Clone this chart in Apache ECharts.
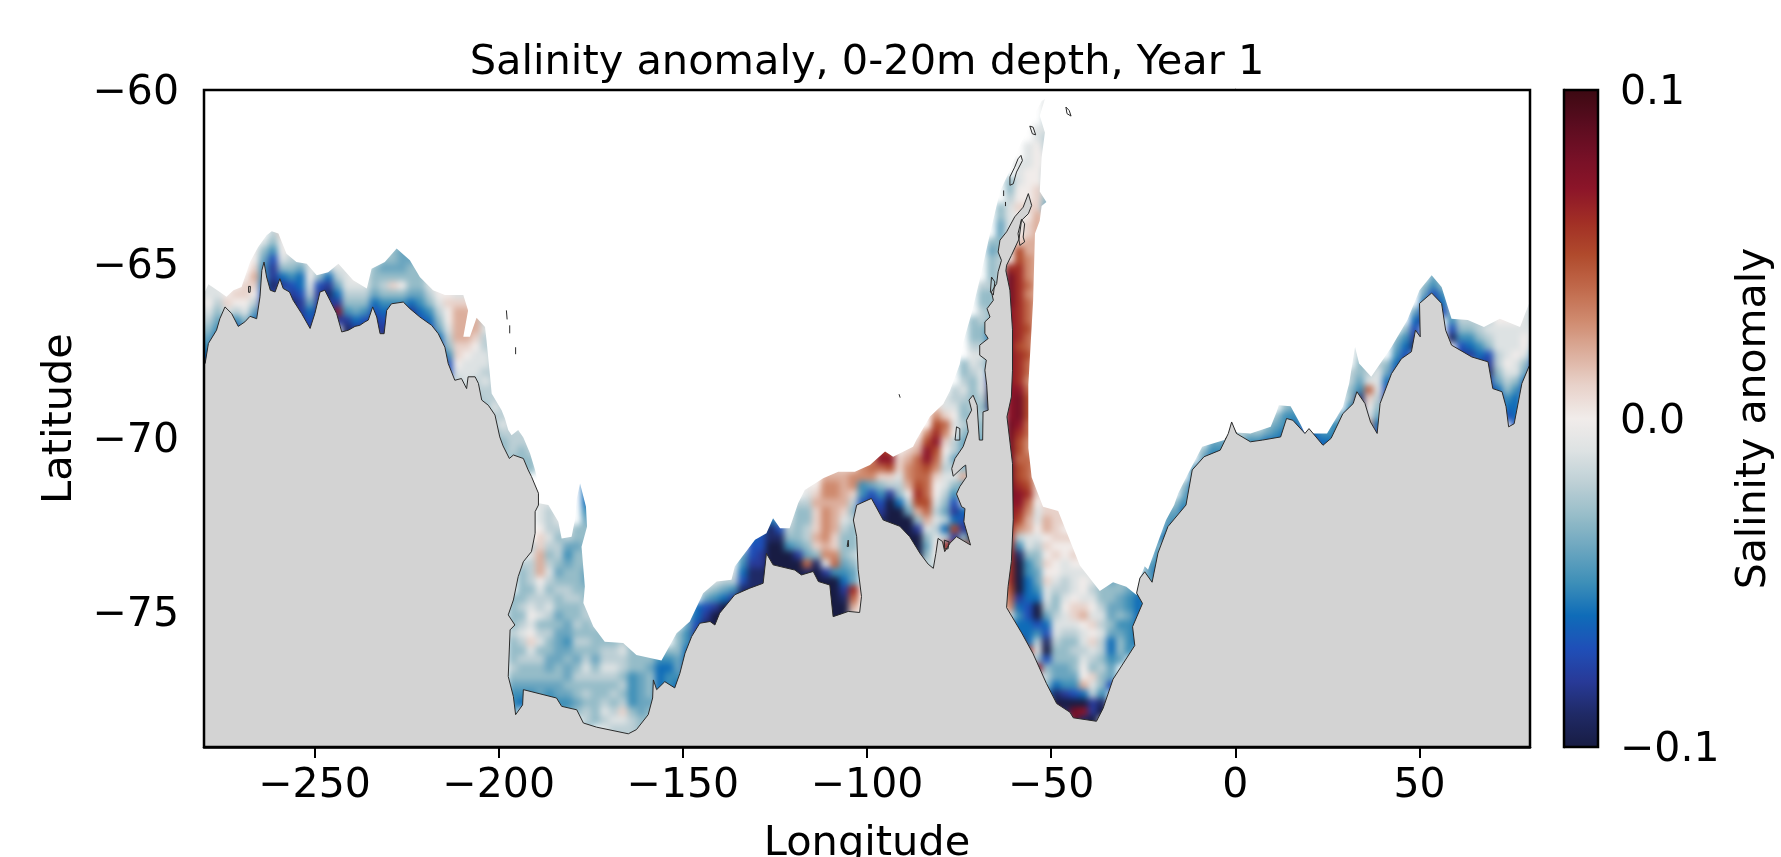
<!DOCTYPE html>
<html><head><meta charset="utf-8">
<style>html,body{margin:0;padding:0;background:#fff}#c{width:1781px;height:857px}</style>
<script src="https://cdn.jsdelivr.net/npm/echarts@6/dist/echarts.min.js"></script>
</head><body><div id="c"></div>
<script>
const titleText = 'Salinity anomaly, 0-20m depth, Year 1';
const xTicks = [-250,-200,-150,-100,-50,0,50];
const yTicks = [-60,-65,-70,-75];
const barTicks = [-0.1,0,0.1];
const barColors = ['#181c43','#1f2a66','#283a98','#1f4fb8','#0f6cb8','#3d8fb8','#6aa5bf','#95bcc8','#bccfd5','#dde2e3','#f1ecea','#e8d2ca','#dcae9c','#cf8a6e','#c0684a','#b04a2c','#a12e25','#8c1529','#751026','#590c1f','#3c0912'];
const cellW = 2.5, cellH = 0.25;
// each row: longitude, latitude of first cell's top, then anomaly (hundredths) going south
const cellRows = [
[-282.5,-65.5,-1,-1,-1,-2,-2,-3,-4,-5,-6,-7,-8],
[-280,-65.25,0,-1,-1,0,-1,-2,-3,-4,-5,-6,-7,-8],
[-277.5,-65.25,0,-1,-1,-2,-3,-4,-5,-6,-7,-8,-8],
[-275,-65.5,0,0,1,-1,-4,-6,-7,-8,-8],
[-272.5,-65.5,0,1,0,-2,-5,-7,-8,-8],
[-270,-65.25,0,1,1,0,-1,-3,-5,-7,-8,-8],
[-267.5,-64.5,0,0,1,2,1,0,-2,-4,-6,-7,-8,-8],
[-265,-64.25,-1,-3,-4,-5,-5,-6,-7,-8,-8],
[-262.5,-63.75,-1,-2,-3,-5,-7,-8,-8,-9,-8,-7],
[-260,-63.75,1,1,0,0,-1,-3,-6,-8,-5,-1,-3],
[-257.5,-64.25,-1,-1,-2,-3,-5,-7,-8,-9,-8,-8],
[-255,-64.5,-2,-2,-4,-6,-6,-7,-8,-8,-8,-8],
[-252.5,-64.75,-1,-1,0,-1,-2,-4,-6,-7,-8,-8],
[-250,-65,-1,-3,-7,-8,-8,-8,-8,-8],
[-247.5,-65,-2,-6,-8,-9,-8,-8],
[-245,-64.75,0,-1,-2,-4,-6,-8,7,-8],
[-242.5,-64.75,0,-1,-1,-1,-2,-3,-5,-8,-9,-9,-9],
[-240,-65.25,0,-1,-2,-3,-4,-6,-8,-9,-8,-8],
[-237.5,-65.25,-1,-1,-2,-3,-5,-7,-8,-8,-8],
[-235,-65,-3,-3,-3,-4,-6,-7,-8,-8],
[-232.5,-64.75,-3,-4,-3,-2,-3,-5,-6,-7,-8,-9,-9],
[-230,-64.5,-3,-3,-4,-3,1,-3,-5,-7,-8,-8],
[-227.5,-64.25,-4,-4,-4,-4,-3,0,-3,-5,-7,-8,-8],
[-225,-64.5,-4,-4,-3,-3,-3,-4,-6,-8,-8],
[-222.5,-65,-3,-3,-3,-4,-5,-6,-7,-8],
[-220,-65.25,-1,-1,-2,-3,-5,-6,-7,-8],
[-217.5,-65.5,0,0,-1,-2,-3,-4,-6,-7,-8],
[-215,-65.5,0,0,1,0,0,-1,-2,-3,-5,-7,-7],
[-212.5,-65.5,-1,-1,1,2,2,2,2,1,1,0,-1,-2],
[-210,-65.5,-1,-1,1,2,2,2,2,1,0,-1,-1,-1,-2],
[-207.5,-66,0,1,2,2,1,0,-1,-1,-1,-2,-2,-3],
[-205,-66.25,-2,-2,-1,-2,-2,-1,-1,-2,-1,-2,-2,-3,-3],
[-202.5,-67,-2,-2,-2,-2,-2,-2,-2,-2,-1,-2,-2,-3,-3],
[-200,-68.5,-1,-2,-2,-2,-1,-2,-3,-3],
[-197.5,-69.5,-2,-2,-2,-2,-3,-3],
[-197.5,-74.5,-3,-3,-3,-3,-2,-3,-3,-3,-2,-3,-4,-5,-5,-4],
[-195,-69.75,-2,-2,-3,-3,-3],
[-195,-73.5,-2,-3,-3,-3,-3,-2,-3,-2,-1,-2,-3,-2,-3,-3,-4,-5,-6],
[-192.5,-70,-2,-2,-3,-3],
[-192.5,-73,-2,-1,-2,-2,-2,-3,-2,-1,0,-1,0,1,-1,-2,-3,-3,-4,-5,-5],
[-190,-71.75,-1,-1,-1,0,1,1,2,2,2,0,-1,-2,-2,-1,-3,-2,-1,-3,-2,-3,-3,-4,-4,-5],
[-187.5,-71.5,-1,-1,-2,-2,-2,-1,-2,-3,-2,-1,-2,-3,-2,-1,-2,-3,-2,-3,-3,-4,-4,-3,-4,-5,-5],
[-185,-72,-1,-1,-2,-3,-2,-2,-3,-4,-3,-2,-3,-3,-4,-3,-4,-4,-4,-4,-3,-3,-4,-4,-5,-5],
[-182.5,-72.5,-1,-2,-4,-5,-4,-3,-3,-2,-2,-3,-3,-4,-4,-5,-4,-3,-4,-4,-3,-4,-5,-4],
[-180,-72.5,-3,-3,-4,-3,-3,-3,-3,-3,-2,-3,-3,-2,-3,-2,-3,-4,-3,-2,-3,-3,-4,-3],
[-177.5,-71,-5,-6,-6,-6,-5,-4,-3,-3,-3,-3,-3,-4,-4,-3,-3,-2,-2,-3,-3,-2,-3,-2,-1,-2,-3,-2,-3,-2,-2,-3],
[-175,-74.75,-3,-2,-2,-3,-3,-3,-4,-3,-2,-3,-3,-3,-3,-3],
[-172.5,-75.25,-3,-3,-3,-2,-2,-1,-2,-3,-3,-2,-1,-2,-1],
[-170,-75.5,-3,-3,-2,-2,-1,-2,-3,-2,-3,-2,-1,-2,-2],
[-167.5,-75.5,-3,-2,-1,-2,-2,-3,-2,-3,-2,1,-1,-2,-2],
[-165,-75.75,-3,-3,-3,-3,-5,-5,-5,-5,-3,-2,-2,-2,-2],
[-162.5,-76,-3,-3,-3,-4,-4,-4,-4,-4,-3,-3,-3],
[-160,-76,-3,-3,-4,-3,-3,-3,-4,-3,-3],
[-157.5,-76,-3,-5,-6,-6,-6,-6],
[-155,-76,-3,-5,-6,-5,-5,-6,-6],
[-152.5,-75.5,-3,-3,-3,-4,-4,-5,-6,-7],
[-150,-75,-4,-4,-5,-5,-6,-6,-7],
[-147.5,-74.75,-6,-6,-7,-8,-8],
[-145,-74.25,-2,-4,-7,-8,-9,-9],
[-142.5,-74,-1,-3,-5,-8,-10,-10,-10],
[-140,-73.75,-1,-2,-4,-6,-10,-10,-10],
[-137.5,-73.75,-1,-2,-5,-8,-10,-10],
[-135,-73.25,-4,-5,-6,-7,-9,-10],
[-132.5,-72.75,-6,-7,-7,-8,-9,-9,-9,-10],
[-130,-72.5,-6,-7,-7,-8,-8,-9,-9,-9],
[-127.5,-72.25,-6,-9,-9,-10,-10,-10,-10,-10],
[-125,-72,-4,-4,-7,-9,-10,-10,-10,-10],
[-122.5,-72.25,-1,-2,-3,-5,-10,-10,-10,-10],
[-120,-71.75,-2,-3,-3,-3,-3,-4,-8,-10,-10,-10,-10],
[-117.5,-71.25,0,-1,-2,-3,-3,-2,-2,-3,-4,4,-9,-10,-10,-10],
[-115,-71.25,0,1,2,1,1,1,2,1,-3,-9,-10,-10,-10,-10],
[-112.5,-70.75,1,2,3,3,2,3,3,3,3,2,3,-1,-8,-10,-10,-10,-10,-10],
[-110,-70.75,1,2,3,3,2,2,2,2,1,1,3,4,-5,-10,-10,-10,-10,-10,-10,-10,-10],
[-107.5,-70.75,1,2,2,2,2,1,-1,-2,-3,-3,-3,-4,-5,-6,-8,-9,-10,-10,-10,-10],
[-105,-70.75,1,3,3,1,-2,-3,-2,-3,-3,-3,-2,-3,-4,-4,6,4,2,-1],
[-102.5,-70.5,2,3,3,-5,-5,-7,-7],
[-100,-70.5,3,4,3,-4,-7,-8,-9],
[-97.5,-70.25,6,7,4,1,-3,-5,-7,-8,-9],
[-95,-70.25,5,7,5,1,-2,-8,-10,-10,-10,-10,-10],
[-92.5,-70.25,0,1,1,-1,-2,-3,-6,-10,-10,-10,-10],
[-90,-70,0,1,2,3,3,2,0,-2,-4,-10,-10,-10,-10],
[-87.5,-70,1,2,4,4,4,5,6,5,2,-3,-8,-10,-10,-10],
[-85,-69.75,3,5,7,7,5,4,4,4,5,4,2,-1,-3,-4,-3,-2,-3,-3],
[-82.5,-69,1,3,5,6,7,5,4,3,1,0,0,-1,-2,-1,-2,-1,0,0,-1,-2],
[-80,-68.75,-1,-1,1,4,3,1,0,-1,-2,-1,-1,-2,-3,-4,-2,-6,-2,6],
[-77.5,-68.5,-2,-2,-1,0,-1,0,-2,-2,-4,-2,-1,-3,-5,-7,-8,-6,5,-8,7],
[-75,-67.75,-3,-3,-2,-1,-2,-3,-3,-2,-3,-4,-4,-6,-3,2,-4,-2,-1,-6,-7,-8,-3,5,-9,-10,-10],
[-72.5,-66.5,-3,-3,-3,-2,-1,-1,-2,-3,-3,-3,-2,-3,-3,-4,-3,-4],
[-72.5,-72,-7,-8,-9,-10],
[-70,-65.5,-2,-3,-3,-2,-2,-3,-3,-2,-1,-2,-1,-1,-1,-2,-3,-2,-3,-3,-4,-5,-5,-4],
[-67.5,-64.25,-3,-4,-3,-3,-3,-2,-3,-3,-3,-3,-5,-6,-5,-4,-4,-6,-8,-9,-10,-9],
[-65,-63.25,-3,-3,-4,-4,-3,-3,-2,-2,-2,-3,-2,-1,-1,-1,-2,-3,-3],
[-62.5,-62.5,-3,-3,-2,-1,-1,-1,0,0,0,0,6,8,8,8,8,7,7,7,7,7,7,7,7,7,7,7,7,7,8,8,8,8,8,8,8,8,8,7,7,7,6,6,6,6,6,6,6,5,4,3,-1,-5,-10,-10,-10,-10,-10,-10,-10,-8],
[-60,-62,-1,-1,-1,0,0,1,0,-1,0,1,5,5,6,6,6,6,6,6,6,6,6,5,6,6,6,6,7,8,8,8,7,6,5,5,4,5,5,6,7,7,6,5,3,-2,-5,-9,-10,-10,-10,-10,-8,-6,-5,-6,-6,7],
[-57.5,-61.5,-1,-1,-1,0,0,0,0,1,0,1,1,2,2,3,3,3,4,3,4,4,4,5,4,4,5,4,4,3,4,5,5,5,4,4,3,3,4,4,4,5,6,4,3,2,2,-1,-1,-3,-5,-5,-6,-6,-6,-7,-7,-6,-6,-6,6],
[-55,-61,-1,-1,0,0,0,0,0,1,1,1,2,2,2,2,2,2,2,2,2,2,2,2,2,2,2,2,2,2,2,2,2,2,2,2,2,2,2,2,3,2,1,1,1,0,-1,-1,0,-1,-2,-3,-3,-4,-4,-5,-6,-10,-10,-7,-5,-2,-1,-3,7],
[-52.5,-60.25,-1,-1,-2,-1,-2,-2,-1,-1,-2,-2,-2,-3,-4],
[-52.5,-71.75,1,1,2,2,0,1,0,1,0,1,-1,-1,-2,-4,-6,-7,-9,-10,-7,-3,-2,-3,-6],
[-50,-71.75,1,1,1,1,1,0,1,0,0,-1,-2,-3,-3,-2,-1,-1,-2,-3,-3,-4,-4,-6,-9,-10,8],
[-47.5,-72,1,1,0,1,0,0,-1,-1,-2,-2,-1,0,-1,-1,-2,-3,-3,-3,-4,-4,-5,-8,-10,-9],
[-45,-72.75,1,0,1,0,-1,-1,-1,0,1,1,-1,-2,-3,-2,-3,-3,-4,-5,-7,-10,8,8],
[-42.5,-73.25,0,0,-1,0,0,-1,1,2,0,-1,-1,-2,-1,0,0,2,-6,-10,7,-9],
[-40,-73.75,-1,-1,-2,-1,0,-1,1,0,1,-1,-2,-3,1,-1,-2,-8,-8,-10,-9],
[-37.5,-74,-2,-3,-3,-2,-1,-2,-1,-2,-2,-3,-2,-3,-3,-5,-9,-10],
[-35,-73.75,-2,-4,-3,-3,-4,-4,-3,-4,-6,-6,-5,-4,-4,-7],
[-32.5,-74,-3,-3,-4,-4,-3,-5,-4,-3,-3,-4],
[-30,-74,-3,-4,-5,-5,-4,-5,-5,-5,-5],
[-27.5,-74,-5,-5,-6,-6,-6,-6,-6,-6],
[-25,-73.5,-4,-4,-4,-4,-5,-5],
[-22.5,-72.75,-4,-4,-5,-5,-6,-5],
[-20,-72,-4,-4,-5,-6],
[-17.5,-71.75,-3,-4,-5,-7],
[-15,-71.25,-3,-4,-5,-6],
[-12.5,-70.75,-4,-5,-6,-6],
[-10,-70.25,-3,-4,-6,-6],
[-7.5,-70,-4,-5,-6,-6],
[-5,-70,-4,-5,-6],
[-2.5,-69.75,-4,-5,-6],
[0,-69.75,-2,-3],
[2.5,-69.75,-3,-5,-6],
[5,-69.75,-3,-5,-6,-7],
[7.5,-69.5,-3,-4,-6,-7,-7],
[10,-69.25,-3,-4,-5,-6,-7,-7],
[12.5,-68.75,-3,-3,-5,-5,-6,-7],
[15,-68.75,-3,-4,-5,-6,-7,-7],
[17.5,-69.25,-3,-4,-7,-7],
[20,-69.5,-5,-6,-7],
[22.5,-69.75,-5,-6,-7],
[25,-69.5,-5,-5,-6,-7],
[27.5,-69.25,-4,-5,-6,-6],
[30,-68,-2,-2,-3,-3,-5,-6,-7,-8],
[32.5,-67.25,-2,-2,-3,-3,-4,-5,-9,-10,-8],
[35,-67.75,-3,-2,-1,4,1,0,-1,3,2],
[37.5,-67.75,-2,-1,-1,-1,-2,-3,-4,-6,-7,-7],
[40,-67.75,-3,-4,-6,-7,-8],
[42.5,-67,-3,-4,-5,-6,-7],
[45,-66.75,-3,-5,-6,-7,-8],
[47.5,-66.25,-4,-6,-7,-8,-9],
[50,-65.5,-3,-4,-6,-7,-8],
[52.5,-65,-3,-4,-5,-7,-8],
[55,-65.25,-2,-3,-5,-6,-7],
[57.5,-65.75,-1,-2,-3,-5,-7,-9],
[60,-66.25,-1,-2,-3,-5,-7,-8],
[62.5,-66.25,-2,-2,-3,-5,-6,-8],
[65,-66.5,-2,-2,-3,-5,-6,-8],
[67.5,-66.5,-2,-1,-2,-3,-7,-8,-9,-7,-8],
[70,-66.5,0,-1,-1,-1,-2,-2,-3,-4,-6,-7],
[72.5,-66.25,1,0,-1,-1,-1,-1,0,-1,-2,-3,-5,-6,-7],
[75,-66.5,0,-1,-1,-1,0,-1,-1,-3,-5,-6,-6,-6,-7],
[77.5,-66.25,-1,-1,-1,0,0,-1,-3,-4,-6,-7],
[80,-65.75,-2,-2,-2,-2,-1,-2,-3,-5,-7,-8,-8]
];
// outer limit of the coloured field, west to east
const oceanEdge = [[-281,-60],[-281,-65.9],[-280,-65.86],[-278.8,-65.59],[-275.7,-65.81],[-273.9,-65.95],[-272,-65.76],[-269.8,-65.67],[-267.5,-64.95],[-265.3,-64.52],[-263,-64.18],[-261.6,-64.06],[-259.8,-64.13],[-257.6,-64.71],[-254.9,-64.95],[-252.1,-65],[-249.4,-65.33],[-246.3,-65.24],[-243.5,-65],[-239.5,-65.47],[-235.8,-65.71],[-234.5,-65.14],[-230.9,-64.95],[-227.7,-64.56],[-224.1,-64.9],[-221.4,-65.38],[-217.8,-65.76],[-214.6,-65.9],[-209.6,-65.9],[-208.3,-66.34],[-209.6,-67.1],[-207.8,-67.1],[-206,-66.55],[-203.7,-66.82],[-203.3,-67.2],[-202.4,-68.16],[-201.9,-68.73],[-199.2,-69.21],[-198.3,-69.45],[-197.4,-69.78],[-196.5,-69.93],[-194.7,-69.78],[-193.3,-70],[-191.5,-70.45],[-190.2,-70.9],[-189.2,-71.32],[-189,-71.89],[-186.5,-71.94],[-183.8,-72.42],[-182.9,-72.9],[-180.2,-72.85],[-179.3,-72.37],[-178.8,-71.75],[-177.9,-71.32],[-176.3,-71.99],[-176,-72.56],[-177.5,-73.14],[-176.6,-74.28],[-177,-74.76],[-174.3,-75.43],[-171.2,-75.87],[-166.2,-75.91],[-162.6,-76.25],[-155.8,-76.41],[-151.7,-75.63],[-148.1,-75.29],[-144.5,-74.48],[-140.8,-74.14],[-136.8,-74.09],[-135.9,-73.71],[-130.4,-72.94],[-127.3,-72.75],[-125.5,-72.32],[-123.6,-72.61],[-121,-72.61],[-118.7,-71.89],[-116.9,-71.51],[-111.9,-71.17],[-107.8,-70.98],[-103.3,-70.98],[-99.2,-70.79],[-95.1,-70.4],[-92.9,-70.55],[-87.5,-70.26],[-86.5,-70.05],[-82.9,-69.39],[-79.3,-69.03],[-77.5,-68.66],[-74.8,-67.88],[-73.9,-67.27],[-71.6,-66.42],[-69.4,-65.46],[-66.6,-64.13],[-63.9,-62.92],[-61.2,-62.31],[-58.5,-61.59],[-56.2,-61.1],[-54.4,-60.68],[-52.6,-60.32],[-51.7,-60.26],[-53.1,-60.74],[-51.7,-61.22],[-52.6,-61.95],[-53.1,-62.92],[-51.3,-63.22],[-52.6,-63.34],[-53.1,-63.76],[-54.4,-64.13],[-54.9,-66.06],[-56.2,-68.48],[-56.2,-70.3],[-55.3,-71.14],[-52.2,-71.99],[-48.1,-72.11],[-42.2,-73.68],[-36.8,-74.41],[-33.2,-74.16],[-29.6,-74.29],[-26.8,-74.53],[-25.9,-74.04],[-24.6,-73.7],[-23.7,-73.8],[-19.6,-72.59],[-18.8,-72.37],[-16.6,-71.94],[-15.5,-71.6],[-12.8,-71.03],[-9,-70.26],[-3,-70.07],[-1.9,-69.9],[-1,-69.6],[0.3,-69.85],[4.1,-69.88],[9.6,-69.69],[11.2,-69.26],[11.8,-69.07],[15,-69.1],[17.8,-69.64],[18.9,-69.88],[24.9,-69.88],[29.2,-69.11],[30.9,-68.44],[32.5,-67.39],[33.6,-67.87],[36.9,-68.25],[42.4,-67.39],[46.7,-66.62],[50,-65.76],[53.3,-65.33],[56,-65.67],[58.7,-66.58],[63.1,-66.62],[67.5,-66.82],[71.8,-66.58],[77.3,-66.82],[79.7,-66.15],[81,-66],[81,-60]];
// land outline, west to east
const landEdge = [[-281,-79.5],[-281,-68],[-279.7,-67.87],[-278.8,-67.29],[-276.6,-66.91],[-275.7,-66.58],[-274.3,-66.24],[-272.5,-66.43],[-270.7,-66.8],[-268.9,-66.67],[-267.5,-66.51],[-265.7,-66.58],[-264.8,-65.95],[-264.3,-65.19],[-263.7,-64.95],[-263,-65.38],[-262,-65.76],[-260.7,-65.81],[-259.4,-65.43],[-258.5,-65.71],[-256.8,-65.81],[-255.8,-66.05],[-253.5,-66.43],[-251.2,-66.86],[-249.9,-66.43],[-248.5,-65.81],[-247.2,-65.76],[-245.8,-66.05],[-244,-66.43],[-242.6,-66.96],[-240.8,-66.91],[-239,-66.8],[-237.7,-66.77],[-236.3,-66.67],[-235.4,-66.62],[-234.2,-66.24],[-233.1,-66.53],[-232.2,-67.01],[-231.1,-67.01],[-230.4,-66.34],[-229.1,-66.15],[-225.9,-66.1],[-224.1,-66.29],[-221.4,-66.53],[-218.2,-66.77],[-216.4,-67.01],[-214.6,-67.4],[-213.7,-67.87],[-211.9,-68.35],[-210.1,-68.3],[-208.7,-68.59],[-208.3,-68.25],[-206.4,-68.25],[-205.5,-68.44],[-204.6,-68.92],[-202.8,-69.07],[-201,-69.35],[-199.7,-69.98],[-198.8,-70.24],[-197.1,-70.6],[-196,-70.5],[-193.3,-70.6],[-192,-70.93],[-191.1,-71.12],[-189.2,-71.6],[-189.2,-71.94],[-190.1,-72.13],[-190.1,-72.75],[-191.1,-73.28],[-193.3,-73.57],[-194.7,-74],[-196,-74.67],[-197.4,-75.1],[-195.6,-75.39],[-196.9,-75.53],[-197.4,-76.87],[-196,-77.45],[-195.4,-77.97],[-193.5,-77.69],[-193.3,-77.25],[-184.3,-77.49],[-182.9,-77.73],[-178.8,-77.83],[-177,-78.21],[-173.4,-78.33],[-164.8,-78.52],[-162.6,-78.4],[-159.4,-77.97],[-158.2,-77.49],[-158,-76.97],[-157.1,-77.25],[-154.9,-77.02],[-152.2,-77.2],[-150.8,-76.78],[-149.4,-76.2],[-147.6,-75.72],[-145.4,-75.34],[-142.6,-75.29],[-141.3,-75.39],[-140,-75.05],[-135.9,-74.52],[-131.8,-74.33],[-128.2,-74.19],[-127.3,-73.33],[-125.5,-73.66],[-119.6,-73.81],[-117.8,-73.95],[-114.6,-73.85],[-113.2,-74.14],[-110.1,-74.24],[-109.2,-75.15],[-106.4,-75.05],[-105.1,-75],[-102,-75.03],[-101.5,-74.57],[-102.4,-73.8],[-102.8,-72.85],[-103.7,-72.37],[-102.8,-71.94],[-98.8,-71.75],[-95.6,-72.37],[-91.1,-72.55],[-88.4,-72.85],[-85.6,-73.33],[-83.4,-73.64],[-82,-73.76],[-81.3,-73.33],[-80.7,-72.9],[-79.5,-72.99],[-78.9,-73.28],[-77.5,-73.04],[-75.7,-72.85],[-71.9,-73.09],[-73.7,-72.42],[-73.4,-72.04],[-74.3,-71.99],[-75.7,-71.62],[-74.8,-71.41],[-73,-71.13],[-73.2,-70.79],[-73.9,-70.84],[-76.6,-71.11],[-77,-70.89],[-76.1,-70.6],[-73.9,-70.26],[-72.5,-69.83],[-73,-69.5],[-71.6,-69.21],[-72.3,-68.92],[-71.2,-68.78],[-70.1,-69.07],[-69.5,-70.07],[-68.6,-70.07],[-68.5,-69.26],[-67.1,-69.21],[-67.5,-68.49],[-68,-68.06],[-67.6,-67.77],[-69.4,-67.63],[-69.4,-67.34],[-67.1,-67.15],[-68,-67],[-68,-66.67],[-66.6,-66.53],[-67.4,-66.29],[-65.7,-66.05],[-66.2,-65.81],[-64.8,-65.57],[-64.4,-65.23],[-63.5,-64.9],[-64.4,-64.66],[-63.9,-64.32],[-62.1,-64.08],[-59.9,-63.65],[-57.6,-63.37],[-56.2,-62.98],[-55.3,-63.32],[-56.2,-63.56],[-58.06,-63.75],[-58.7,-64.28],[-60.8,-64.76],[-62.1,-65.04],[-62.3,-65.2],[-61.2,-65.76],[-60.5,-66.9],[-60.5,-68.06],[-60.8,-68.83],[-62,-69.4],[-60.5,-70.74],[-60.3,-72.35],[-60.8,-73.56],[-61.7,-74.29],[-62.1,-74.89],[-58,-75.62],[-54.9,-76.22],[-51.3,-77.07],[-48.5,-77.65],[-44.9,-77.9],[-44,-78.06],[-37.7,-78.16],[-35.9,-77.79],[-33.2,-76.95],[-27.3,-75.98],[-27.9,-75.44],[-25.2,-74.77],[-26.8,-74.47],[-25.9,-74.04],[-24.6,-73.86],[-22.6,-74.16],[-21,-73.32],[-18.3,-72.56],[-13.4,-71.94],[-11.7,-70.93],[-8.5,-70.55],[-4.1,-70.36],[-1.9,-69.88],[-1,-69.55],[0.3,-69.88],[4.1,-70.12],[7.4,-70.07],[12.3,-69.98],[13.9,-69.45],[15.6,-69.5],[18.9,-69.88],[20,-69.74],[23.8,-70.22],[26,-70.02],[29.2,-69.31],[32,-69.02],[33,-68.68],[35.2,-69.02],[36.7,-69.55],[38.5,-69.88],[39.3,-69.02],[42.4,-68.16],[45.1,-67.73],[47.8,-67.53],[48.9,-66.91],[50.2,-67.1],[50,-66.14],[53.3,-65.84],[56,-66.14],[57.1,-66.91],[58.7,-67.34],[64.2,-67.68],[68.6,-67.82],[69.9,-68.59],[72.4,-68.68],[73.5,-69.11],[74.2,-69.69],[75.7,-69.6],[77.8,-68.44],[79.7,-67.96],[81,-67.8],[81,-79.5]];
// small islands and shelf outlines
const islandOutlines = [
[[-58.2,-61.88],[-57.8,-62.03],[-59.4,-62.36],[-60.3,-62.7],[-61.2,-62.74],[-61.2,-62.5],[-59.9,-62.22],[-59,-61.98],[-58.2,-61.88]],
[[-55.8,-61.04],[-54.9,-61.07],[-54.2,-61.29],[-55.1,-61.26],[-55.8,-61.04]],
[[-46,-60.49],[-45.1,-60.59],[-44.6,-60.75],[-45.7,-60.68],[-46,-60.49]],
[[-62.9,-62.89],[-62.9,-63.05]],[[-62.4,-63.22],[-62.4,-63.34]],
[[-58.06,-63.72],[-57.2,-63.85],[-57.6,-64.23],[-57.2,-64.37],[-58.5,-64.47],[-59,-64.13],[-58.06,-63.72]],
[[-66.2,-65.38],[-65.3,-65.52],[-65.7,-65.9],[-66.5,-65.81],[-66.2,-65.38]],
[[-75.7,-69.69],[-74.8,-69.74],[-74.8,-70.07],[-76.1,-70.07],[-75.7,-69.69]],
[[-79,-72.95],[-77.7,-73],[-78,-73.2],[-78.9,-73.2],[-79,-72.95]],
[[-197.9,-66.34],[-197.7,-66.6]],[[-197,-66.77],[-197,-67]],[[-195.4,-67.4],[-195.4,-67.6]],
[[-91.3,-68.75],[-91,-68.85]],
[[-105.1,-72.95],[-105.4,-73.13],[-105,-73.13],[-105.1,-72.95]],
[[-267.9,-65.65],[-267.4,-65.65],[-267.5,-65.82],[-267.9,-65.82],[-267.9,-65.65]]
];

const minusText = v => String(v).replace('-', '\u2212');
const fontFamily = '"DejaVu Sans"';
const cellData = [];
cellRows.forEach(r => { for (let i = 2; i < r.length; i++) cellData.push([r[0], r[1] - (i - 2) * cellH, r[i] / 100]); });

const polyItem = (pts, style) => (params, api) => params.dataIndex ? null : ({
  type: 'polygon', shape: { points: pts.map(p => api.coord(p)) }, style
});

const chart = echarts.init(document.getElementById('c'), null, { renderer: 'canvas' });
const axisBase = { axisLine: { show: true, lineStyle: { color: '#000', width: 2.5 } }, splitLine: { show: false } };
const tickLabelRich = { v: { fontFamily, fontSize: 41, color: '#000', padding: [7, 0, 0, 0] } };
chart.setOption({
  animation: false,
  title: { text: titleText, left: 862, top: 37, textAlign: 'center', textStyle: { fontFamily, fontWeight: 'normal', fontSize: 41.5, color: '#000' } },
  grid: [
    { left: 204, top: 90, width: 1326, height: 657, outerBoundsMode: 'none', show: true, backgroundColor: 'transparent', borderColor: '#000', borderWidth: 2.5, z: 10 },
    { left: 1564, top: 90, width: 34, height: 657, outerBoundsMode: 'none', show: true, backgroundColor: 'transparent', borderColor: '#000', borderWidth: 2.5, z: 10 }
  ],
  xAxis: [
    Object.assign({}, axisBase, { type: 'value', gridIndex: 0, min: -280, max: 80, name: 'Longitude', nameLocation: 'middle', nameGap: 76,
      nameTextStyle: { fontFamily, fontSize: 41.5, color: '#000' },
      axisTick: { show: true, length: 11, lineStyle: { color: '#000', width: 2 }, customValues: xTicks },
      axisLabel: { customValues: xTicks, formatter: minusText, fontFamily, fontSize: 41, color: '#000', margin: 19 } }),
    { type: 'value', gridIndex: 1, min: 0, max: 1, show: false }
  ],
  yAxis: [
    Object.assign({}, axisBase, { type: 'value', gridIndex: 0, min: -78.9, max: -60, name: 'Latitude', nameLocation: 'middle', nameGap: 108,
      nameTextStyle: { fontFamily, fontSize: 41.5, color: '#000' },
      axisTick: { show: true, length: 11, lineStyle: { color: '#000', width: 2 }, customValues: yTicks },
      axisLabel: { customValues: yTicks, formatter: v => '{v|' + minusText(v) + '}', rich: tickLabelRich, margin: 25 } }),
    Object.assign({}, axisBase, { type: 'value', gridIndex: 1, position: 'right', min: -0.1, max: 0.1, name: 'Salinity anomaly', nameLocation: 'middle', nameGap: 136, nameRotate: 90,
      nameTextStyle: { fontFamily, fontSize: 41, color: '#000' },
      axisTick: { show: true, length: 11, lineStyle: { color: '#000', width: 2 }, customValues: barTicks },
      axisLabel: { customValues: barTicks, formatter: v => '{v|' + minusText(v.toFixed(1)) + '}', rich: tickLabelRich, margin: 22 } })
  ],
  visualMap: { type: 'continuous', seriesIndex: 0, dimension: 2, min: -0.1, max: 0.1, inRange: { color: barColors },
    left: 1564, top: 90, itemWidth: 34, itemHeight: 657, padding: 0, calculable: false, hoverLink: false, text: null },
  series: [
    { type: 'custom', name: 'anomaly', zlevel: -1, xAxisIndex: 0, yAxisIndex: 0, clip: false, silent: true, progressive: 0,
      encode: { x: 0, y: 1 }, data: cellData,
      renderItem: (params, api) => {
        const p = api.coord([api.value(0), api.value(1)]);
        const s = api.size([cellW, cellH]);
        return { type: 'rect', shape: { x: p[0], y: p[1], width: s[0] + 1, height: s[1] + 1 }, style: { fill: api.visual('color') } };
      } },
    { type: 'custom', name: 'open ocean', z: 3, xAxisIndex: 0, yAxisIndex: 0, clip: true, silent: true, encode: { x: 0, y: 1 }, data: oceanEdge,
      renderItem: polyItem(oceanEdge, { fill: '#fff' }) },
    { type: 'custom', name: 'land', z: 4, xAxisIndex: 0, yAxisIndex: 0, clip: true, silent: true, encode: { x: 0, y: 1 }, data: landEdge,
      renderItem: polyItem(landEdge, { fill: '#d3d3d3', stroke: '#2a2a2a', lineWidth: 1 }) },
    { type: 'custom', name: 'islands', z: 5, xAxisIndex: 0, yAxisIndex: 0, clip: true, silent: true,
      data: islandOutlines.map((o, i) => [o[0][0], o[0][1], i]), encode: { x: 0, y: 1 },
      renderItem: (params, api) => ({ type: 'polyline', shape: { points: islandOutlines[params.dataIndex].map(p => api.coord(p)) }, style: { fill: 'none', stroke: '#2a2a2a', lineWidth: 1 } }) }
  ]
});
// soften the cell layer only: it sits on its own canvas under the masks
const soften = () => {
  const cv = chart.getDom().querySelector('canvas');
  if (cv) { cv.style.filter = 'blur(3px)'; cv.style.clipPath = 'inset(90px 251px 110px 204px)'; }
};
soften();
chart.on('finished', soften);
</script></body></html>
